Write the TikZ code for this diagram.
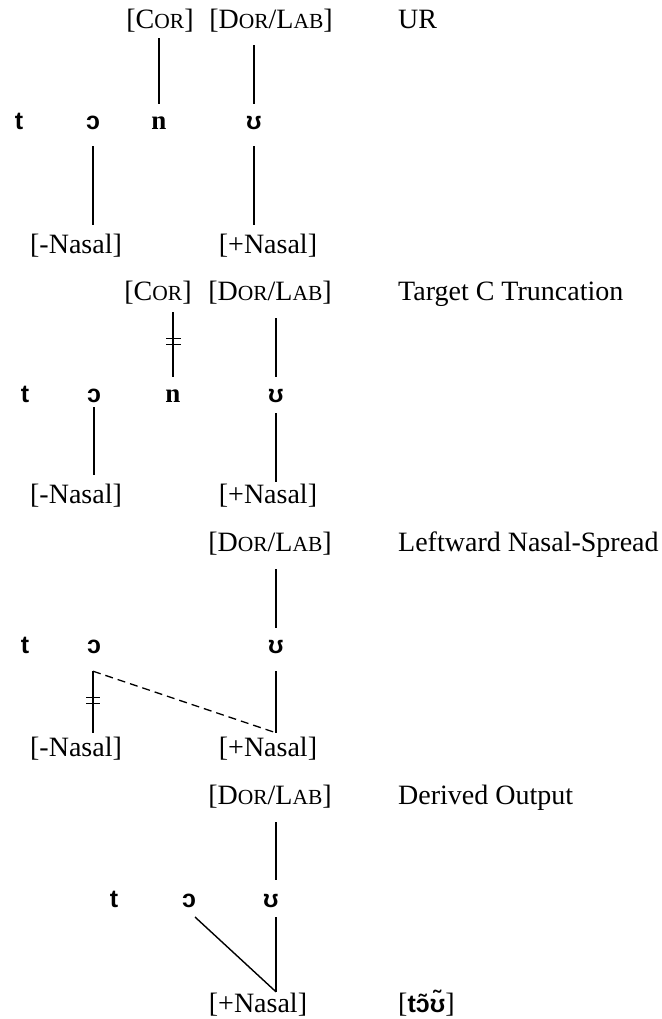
\documentclass[tikz,border=0pt]{standalone}
\usepackage{fontspec}
\setmainfont{Liberation Serif}
\newfontfamily\segsans{Liberation Sans}
\usetikzlibrary{calc}
\newcommand\smcap[1]{{\fontsize{21.5}{22}\selectfont #1}}
\newcommand\segfnt{\fontsize{25}{26}\selectfont\segsans\bfseries}
\newcommand\labfnt{\fontsize{28}{30}\selectfont}
\tikzset{
  lab/.style={font=\labfnt, inner sep=0pt, text height=20pt, text depth=6pt, anchor=base},
  rulename/.style={font=\labfnt, inner sep=0pt, anchor=base west},
  seg/.style={font=\segfnt, inner sep=0pt, text height=14pt, text depth=0pt, anchor=base},
  segn/.style={seg, font=\fontsize{27}{28}\selectfont\bfseries},
  assoc/.style={line width=1.4pt},
  delink/.style={line width=1.3pt},
  spread/.style={line width=1.3pt, dash pattern=on 8pt off 5pt},
}
\begin{document}
\begin{tikzpicture}[x=1pt,y=-1pt]
\useasboundingbox (0,0) rectangle (661,1019);
% ---------- Row 1: UR
\node[lab] (cor1) at (160,29) {[C\smcap{OR}]};
\node[lab] (dor1) at (271,29) {[D\smcap{OR}/L\smcap{AB}]};
\node[rulename] (ur) at (398,29) {UR};
\node[seg] (t1) at (19,130) {t};
\node[seg] (o1) at (93,130) {ɔ};
\node[segn] (n1) at (159,130) {n};
\node[seg] (u1) at (254,130) {ʊ};
\node[lab] (mn1) at (76,253) {[-Nasal]};
\node[lab] (pn1) at (268,253) {[+Nasal]};
\draw[assoc, shorten <=3pt, shorten >=12pt] (n1 |- cor1.south) -- (n1.north);
\draw[assoc, shorten <=10pt, shorten >=12pt] (u1 |- dor1.south) -- (u1.north);
\draw[assoc, shorten <=16pt, shorten >=8pt] (o1.south) -- (o1 |- mn1.north);
\draw[assoc, shorten <=16pt, shorten >=8pt] (u1.south) -- (u1 |- pn1.north);
% ---------- Row 2: Target C Truncation
\node[lab] (cor2) at (158,300) {[C\smcap{OR}]};
\node[lab] (dor2) at (270,300) {[D\smcap{OR}/L\smcap{AB}]};
\node[rulename] (tct) at (398,300) {Target C Truncation};
\node[seg] (t2) at (25,402) {t};
\node[seg] (o2) at (94,402) {ɔ};
\node[segn] (n2) at (173,402) {n};
\node[seg] (u2) at (276,402) {ʊ};
\node[lab] (mn2) at (76,503) {[-Nasal]};
\node[lab] (pn2) at (268,503) {[+Nasal]};
\draw[assoc, shorten <=6pt, shorten >=11pt] (n2 |- cor2.south) -- (n2.north);
\draw[delink] ([xshift=-7pt,yshift=49pt]n2.north) -- ([xshift=8pt,yshift=49pt]n2.north);
\draw[delink] ([xshift=-7pt,yshift=43pt]n2.north) -- ([xshift=8pt,yshift=43pt]n2.north);
\draw[assoc, shorten <=12pt, shorten >=11pt] (u2 |- dor2.south) -- (u2.north);
\draw[assoc, shorten <=5pt, shorten >=8pt] (o2.south) -- (o2 |- mn2.north);
\draw[assoc, shorten <=11pt, shorten >=1pt] (u2.south) -- (u2 |- pn2.north);
% ---------- Row 3: Leftward Nasal-Spread
\node[lab] (dor3) at (270,551) {[D\smcap{OR}/L\smcap{AB}]};
\node[rulename] (lns) at (398,551) {Leftward Nasal-Spread};
\node[seg] (t3) at (25,653) {t};
\node[seg] (o3) at (94,653) {ɔ};
\node[seg] (u3) at (276,653) {ʊ};
\node[lab] (mn3) at (76,756) {[-Nasal]};
\node[lab] (pn3) at (268,756) {[+Nasal]};
\coordinate (j3) at ($(u3 |- pn3.north)+(0,-3)$);
\coordinate (o3top) at ($(o3.south)+(-1,18)$);
\draw[assoc, shorten <=12pt, shorten >=11pt] (u3 |- dor3.south) -- (u3.north);
\draw[assoc, shorten >=3pt] (o3top) -- (o3top |- mn3.north);
\draw[delink] ([xshift=-8pt,yshift=-44pt]o3.south) -- ([xshift=6pt,yshift=-44pt]o3.south);
\draw[delink] ([xshift=-8pt,yshift=-50pt]o3.south) -- ([xshift=6pt,yshift=-50pt]o3.south);
\draw[assoc, shorten <=18pt] (u3.south) -- (j3);
\draw[spread] (o3top) -- (j3);
% ---------- Row 4: Derived Output
\node[lab] (dor4) at (270,804) {[D\smcap{OR}/L\smcap{AB}]};
\node[rulename] (dout) at (398,804) {Derived Output};
\node[seg] (t4) at (114,907) {t};
\node[seg] (o4) at (189,907) {ɔ};
\node[seg] (u4) at (271,907) {ʊ};
\node[lab] (pn4) at (258,1012) {[+Nasal]};
\node[rulename] (outp) at (398,1012) {[{\segfnt tɔ̃ʊ̃}]};
\coordinate (c4) at ($(u4.base)+(5,0)$);
\coordinate (j4) at (c4 |- pn4.north);
\draw[assoc, shorten <=12pt, shorten >=27pt] (c4 |- dor4.south) -- (c4);
\draw[assoc, shorten <=10pt] (c4) -- (j4);
\draw[assoc] ($(o4.base)+(6,10)$) -- (j4);
\end{tikzpicture}
\end{document}
